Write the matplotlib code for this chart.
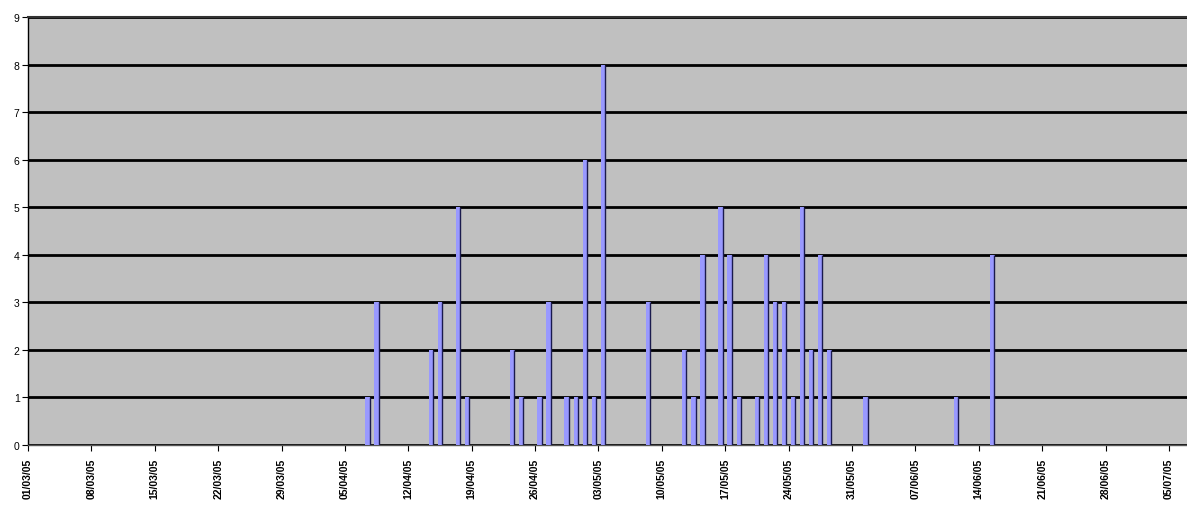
import matplotlib
matplotlib.use("Agg")
import matplotlib.pyplot as plt

# Day index (0 = first day on the axis) and counts
days = [37, 38, 44, 45, 47, 48, 53, 54, 56, 57, 59, 60, 61, 62, 63, 68,
        72, 73, 74, 76, 77, 78, 80, 81, 82, 83, 84, 85, 86, 87, 88, 92, 102, 106]
counts = [1, 3, 2, 3, 5, 1, 2, 1, 1, 3, 1, 1, 6, 1, 8, 3,
          2, 1, 4, 5, 4, 1, 1, 4, 3, 3, 1, 5, 2, 4, 2, 1, 1, 4]

tick_days = list(range(0, 127, 7))
tick_labels = ["01/03/05", "08/03/05", "15/03/05", "22/03/05", "29/03/05",
               "05/04/05", "12/04/05", "19/04/05", "26/04/05", "03/05/05",
               "10/05/05", "17/05/05", "24/05/05", "31/05/05", "07/06/05",
               "14/06/05", "21/06/05", "28/06/05", "05/07/05"]
y_ticks = list(range(0, 10))

W, H = 1187, 506
fig = plt.figure(figsize=(W / 100, H / 100), dpi=100)
fig.patch.set_facecolor("white")
ax = fig.add_axes([28 / W, 60 / H, (W - 28) / W, (446 - 18) / H])
ax.set_facecolor("#C0C0C0")

ax.bar([d + 0.5 for d in days], counts, width=0.5, color="#9999FF",
       edgecolor="none", linewidth=0, zorder=3)
ax.vlines([d + 0.72 for d in days], 0, counts, color="#1A1A4D",
          linewidth=1.0, zorder=4)

ax.set_xlim(0, 128)
ax.set_ylim(0, 9)
ax.set_yticks(y_ticks)
ax.set_yticklabels([str(v) for v in y_ticks], fontsize=7.5, family="Liberation Sans")
ax.set_xticks(tick_days)
ax.set_xticklabels(tick_labels, rotation=90, fontsize=7.5, fontweight="bold",
                   family="Liberation Sans", va="top")

ax.yaxis.grid(True, color="black", linewidth=2.0, zorder=1)
ax.set_axisbelow(True)

ax.spines["right"].set_visible(False)
ax.spines["top"].set_color("#333333")
ax.spines["top"].set_linewidth(1.5)
ax.spines["left"].set_color("black")
ax.spines["left"].set_linewidth(1.0)
ax.spines["bottom"].set_color("#555555")
ax.spines["bottom"].set_linewidth(1.0)

ax.tick_params(axis="y", direction="out", length=4, width=0.8, pad=2, colors="black")
ax.tick_params(axis="x", direction="out", length=4, width=0.8, pad=5, colors="black")

fig.savefig("out.png", dpi=100, facecolor="white")
